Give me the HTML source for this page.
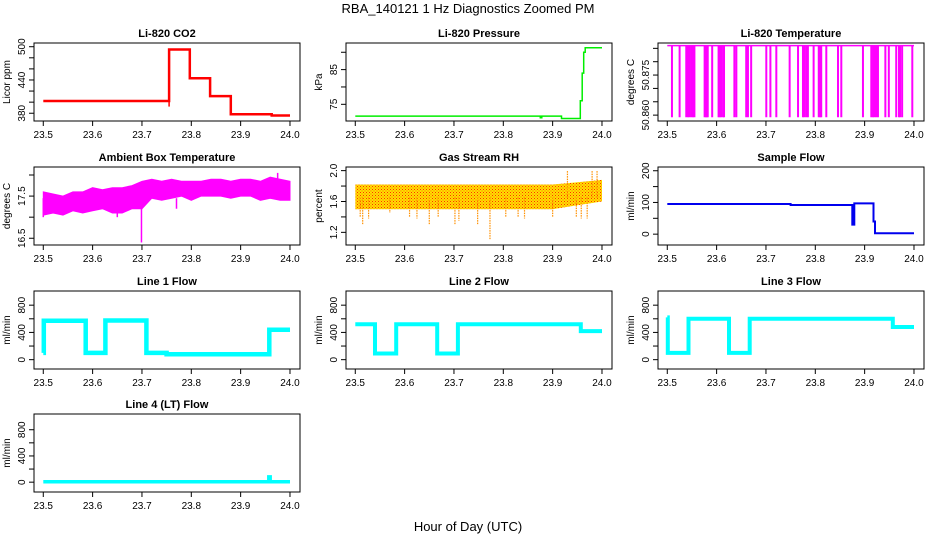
<!DOCTYPE html>
<html><head><meta charset="utf-8"><style>
html,body{margin:0;padding:0;background:#fff;}
svg{display:block;font-family:"Liberation Sans",Arial,sans-serif;}
</style></head><body>
<svg id="fig" width="936" height="540" viewBox="0 0 936 540">
<defs>
<pattern id="rhpat" width="3" height="3" patternUnits="userSpaceOnUse">
<rect width="3" height="3" fill="#ffe000"/><rect x="0" y="0" width="1" height="1" fill="#ff3000"/><rect x="1.5" y="1.5" width="1" height="1" fill="#ff6000"/>
</pattern>
</defs>
<text x="468" y="13" text-anchor="middle" font-size="13">RBA_140121  1 Hz Diagnostics Zoomed PM</text>
<text x="468" y="531" text-anchor="middle" font-size="13">Hour of Day (UTC)</text>
</svg>
<script>
// ---- data ----
const xTicks=[23.5,23.6,23.7,23.8,23.9,24.0];
const xTickLabels=["23.5","23.6","23.7","23.8","23.9","24.0"];

const co2Times=[23.5,23.755,23.797,23.838,23.880,23.963,24.0];
const co2Vals=[402,495,443,411,378,376];
const co2SpikeT=[23.755,23.96];
const co2SpikeV=[420,392];

const presTimes=[23.5,23.875,23.878,23.918,23.956,23.960,23.963,23.966,24.0];
const presVals=[71.6,71.1,71.6,70.9,76,84,90,91.3];

const tempDips=[23.5095,23.525,23.5385,23.542,23.545,23.549,23.552,23.555,23.5757,23.578,23.580,23.582,23.591,23.604,23.606,23.609,23.613,23.615,23.636,23.640,23.660,23.6635,23.670,23.7007,23.709,23.721,23.748,23.765,23.775,23.778,23.782,23.785,23.7966,23.807,23.810,23.812,23.8223,23.846,23.8527,23.8966,23.9135,23.917,23.920,23.9236,23.927,23.942,23.949,23.964,23.9696,23.972,23.976,23.9966];
const tempHigh=50.886;
const tempLow=50.8592;

const ambT=[23.50,23.52,23.54,23.56,23.58,23.60,23.62,23.64,23.66,23.68,23.70,23.72,23.74,23.76,23.78,23.80,23.82,23.84,23.86,23.88,23.90,23.92,23.94,23.96,23.98,24.0];
const ambMin=[17.05,17.1,17.05,17.15,17.1,17.15,17.2,17.1,17.1,17.2,17.2,17.45,17.4,17.45,17.5,17.4,17.5,17.5,17.5,17.45,17.5,17.5,17.4,17.45,17.4,17.4];
const ambMax=[17.6,17.55,17.5,17.6,17.6,17.7,17.65,17.7,17.7,17.75,17.85,17.9,17.85,17.9,17.85,17.85,17.85,17.9,17.9,17.85,17.9,17.9,17.85,17.95,17.9,17.85];
const ambSpikeT=[23.699,23.5,23.65,23.77,23.975];
const ambSpikeV=[16.4,17.0,17.0,17.2,18.05];

const rhT=[23.5,23.55,23.6,23.65,23.7,23.75,23.8,23.85,23.9,23.95,24.0];
const rhMin=[1.5,1.5,1.5,1.5,1.5,1.5,1.5,1.5,1.5,1.55,1.6];
const rhMax=[1.82,1.82,1.82,1.82,1.82,1.82,1.82,1.82,1.82,1.85,1.88];
const rhSpikeT=[23.51,23.515,23.527,23.57,23.61,23.625,23.65,23.668,23.702,23.71,23.748,23.773,23.805,23.83,23.843,23.9,23.93,23.948,23.958,23.97,23.98,23.99];
const rhSpikeV=[1.4,1.3,1.38,1.45,1.4,1.38,1.3,1.4,1.3,1.35,1.3,1.1,1.4,1.4,1.38,1.4,2.0,1.4,1.38,1.38,2.0,2.0];

const sfTimes=[23.5,23.75,23.875,23.879,23.918,23.921,24.0];
const sfVals=[95,92,30,97,40,3];

const l1Times=[23.5,23.501,23.586,23.626,23.709,23.75,23.958,24.0];
const l1Vals=[100,570,100,575,100,80,440];
const l2Times=[23.5,23.540,23.583,23.666,23.708,23.957,24.0];
const l2Vals=[520,90,520,90,520,420];
const l3Times=[23.5,23.501,23.543,23.625,23.667,23.957,24.0];
const l3Vals=[620,100,600,100,600,480];
const l4Times=[23.5,23.957,23.960,24.0];
const l4Vals=[5,80,5];

// ---- layout ----
const svg=document.getElementById('fig');
const NS='http://www.w3.org/2000/svg';
const colL=[34,346,658], rowT=[43,167,291,414], W=266, H=78;
const XMIN=23.4812, XMAX=24.0203;
function mk(tag,attrs,parent){const e=document.createElementNS(NS,tag);for(const k in attrs)e.setAttribute(k,attrs[k]);(parent||svg).appendChild(e);return e;}

function panel(c,r,name,title,ylab,ymin,ymax,yticks,ylabels){
  const L=colL[c],T=rowT[r];
  const g=mk('g',{});
  
  
  const xs=v=>L+(v-XMIN)/(XMAX-XMIN)*W;
  const ys=v=>T+H-(v-ymin)/(ymax-ymin)*H;
  const tt=mk('text',{x:L+W/2,y:T-6,'text-anchor':'middle','font-size':11,'font-weight':'bold'},g);tt.textContent=title;
  
  
  const box=mk('rect',{x:L,y:T,width:W,height:H,fill:'none',stroke:'#000','stroke-width':1},g);
  
  
  const xa=mk('g',{},g);
  
  
  xTicks.forEach((v,i)=>{mk('line',{x1:xs(v),x2:xs(v),y1:T+H,y2:T+H+5,stroke:'#000'},xa);
    const t=mk('text',{x:xs(v),y:T+H+17,'text-anchor':'middle','font-size':10},xa);t.textContent=xTickLabels[i];});
  const ya=mk('g',{},g);
  
  
  yticks.forEach(v=>{mk('line',{x1:L-5,x2:L,y1:ys(v),y2:ys(v),stroke:'#000'},ya);});
  ylabels.forEach(v=>{const x=L-9,y=ys(v);const t=mk('text',{x:x,y:y,'text-anchor':'middle','font-size':10,transform:`rotate(-90 ${x} ${y})`},ya);t.textContent=String(v);});
  const yl=mk('text',{x:L-24,y:T+H/2,'text-anchor':'middle','font-size':10,transform:`rotate(-90 ${L-24} ${T+H/2})`},g);yl.textContent=ylab;
  
  
  return {g,xs,ys};
}
function stepPath(p,times,vals,color,sw,name){
  let d='';
  for(let i=0;i<vals.length;i++){
    const x0=p.xs(times[i]),x1=p.xs(times[i+1]),y=p.ys(vals[i]);
    d+=(i===0?'M':'L')+x0.toFixed(1)+','+y.toFixed(1)+' L'+x1.toFixed(1)+','+y.toFixed(1)+' ';
  }
  const e=mk('path',{d:d,fill:'none',stroke:color,'stroke-width':sw},p.g);
  
  
  return e;
}

// CO2
let p=panel(0,0,'co2','Li-820 CO2','Licor ppm',366,506.7,[380,400,420,440,460,480,500],[380,440,500]);
stepPath(p,co2Times,co2Vals,'#ff0000',2.5,'co2-line');
co2SpikeT.forEach((t,i)=>{const e=mk('line',{x1:p.xs(t),x2:p.xs(t),y1:p.ys(co2Vals[0]-10),y2:p.ys(co2SpikeV[i]),stroke:'#ff0000','stroke-width':1.5},p.g);
  
  });

// Pressure
p=panel(1,0,'pressure','Li-820 Pressure','kPa',70.19,92.67,[75,80,85,90],[75,85]);
stepPath(p,presTimes,presVals,'#00ee00',1.5,'pressure-line');

// Li-820 temperature
p=panel(2,0,'li820-temp','Li-820 Temperature','degrees C',50.8578,50.887,[50.860,50.865,50.870,50.875,50.880,50.885],['50.860','50.875']);
{const e=mk('line',{x1:p.xs(23.5),x2:p.xs(24.0),y1:p.ys(tempHigh),y2:p.ys(tempHigh),stroke:'#ff00ff','stroke-width':1.5},p.g);
 
 }
tempDips.forEach(t=>{const e=mk('line',{x1:p.xs(t),x2:p.xs(t),y1:p.ys(tempHigh),y2:p.ys(tempLow),stroke:'#ff00ff','stroke-width':2},p.g);
  
  });

// Ambient
p=panel(0,1,'ambient-temp','Ambient Box Temperature','degrees C',16.34,18.19,[16.5,17,17.5,18],[16.5,17.5]);
{let d='';ambT.forEach((t,i)=>{d+=(i?'L':'M')+p.xs(t).toFixed(1)+','+p.ys(ambMax[i]).toFixed(1)+' ';});
 for(let i=ambT.length-1;i>=0;i--)d+='L'+p.xs(ambT[i]).toFixed(1)+','+p.ys(ambMin[i]).toFixed(1)+' ';
 const e=mk('path',{d:d+'Z',fill:'#ff00ff',stroke:'#ff00ff','stroke-width':1},p.g);
 
 }
ambSpikeT.forEach((t,i)=>{const e=mk('line',{x1:p.xs(t),x2:p.xs(t),y1:p.ys(17.45),y2:p.ys(ambSpikeV[i]),stroke:'#ff00ff','stroke-width':1.5},p.g);
  
  });

// RH
p=panel(1,1,'gas-rh','Gas Stream RH','percent',1.036,2.047,[1.2,1.4,1.6,1.8,2.0],['1.2','1.6','2.0']);
{let d='';rhT.forEach((t,i)=>{d+=(i?'L':'M')+p.xs(t).toFixed(1)+','+p.ys(rhMax[i]).toFixed(1)+' ';});
 for(let i=rhT.length-1;i>=0;i--)d+='L'+p.xs(rhT[i]).toFixed(1)+','+p.ys(rhMin[i]).toFixed(1)+' ';
 const e=mk('path',{d:d+'Z',fill:'url(#rhpat)',stroke:'none'},p.g);
 
 }
rhSpikeT.forEach((t,i)=>{const e=mk('line',{x1:p.xs(t),x2:p.xs(t),y1:p.ys(1.65),y2:p.ys(rhSpikeV[i]),stroke:'#ff9000','stroke-width':1.2,'stroke-dasharray':'1.5 1'},p.g);
  
  });

// Sample flow
p=panel(2,1,'sample-flow','Sample Flow','ml/min',-34.2,211.8,[0,50,100,150,200],[0,100,200]);
stepPath(p,sfTimes,sfVals,'#0000ee',2,'sample-flow-line');

// Line flows
const flowTicks=[0,200,400,600,800];
p=panel(0,2,'line1-flow','Line 1 Flow','ml/min',-137,1008,flowTicks,[0,400,800]);
stepPath(p,l1Times,l1Vals,'#00ffff',4.5,'line1-flow-line');
p=panel(1,2,'line2-flow','Line 2 Flow','ml/min',-137,1008,flowTicks,[0,400,800]);
stepPath(p,l2Times,l2Vals,'#00ffff',4,'line2-flow-line');
p=panel(2,2,'line3-flow','Line 3 Flow','ml/min',-137,1008,flowTicks,[0,400,800]);
stepPath(p,l3Times,l3Vals,'#00ffff',4,'line3-flow-line');
p=panel(0,3,'line4-flow','Line 4 (LT) Flow','ml/min',-150,1040,flowTicks,[0,400,800]);
stepPath(p,l4Times,l4Vals,'#00ffff',3.5,'line4-flow-line');
</script>
</body></html>
